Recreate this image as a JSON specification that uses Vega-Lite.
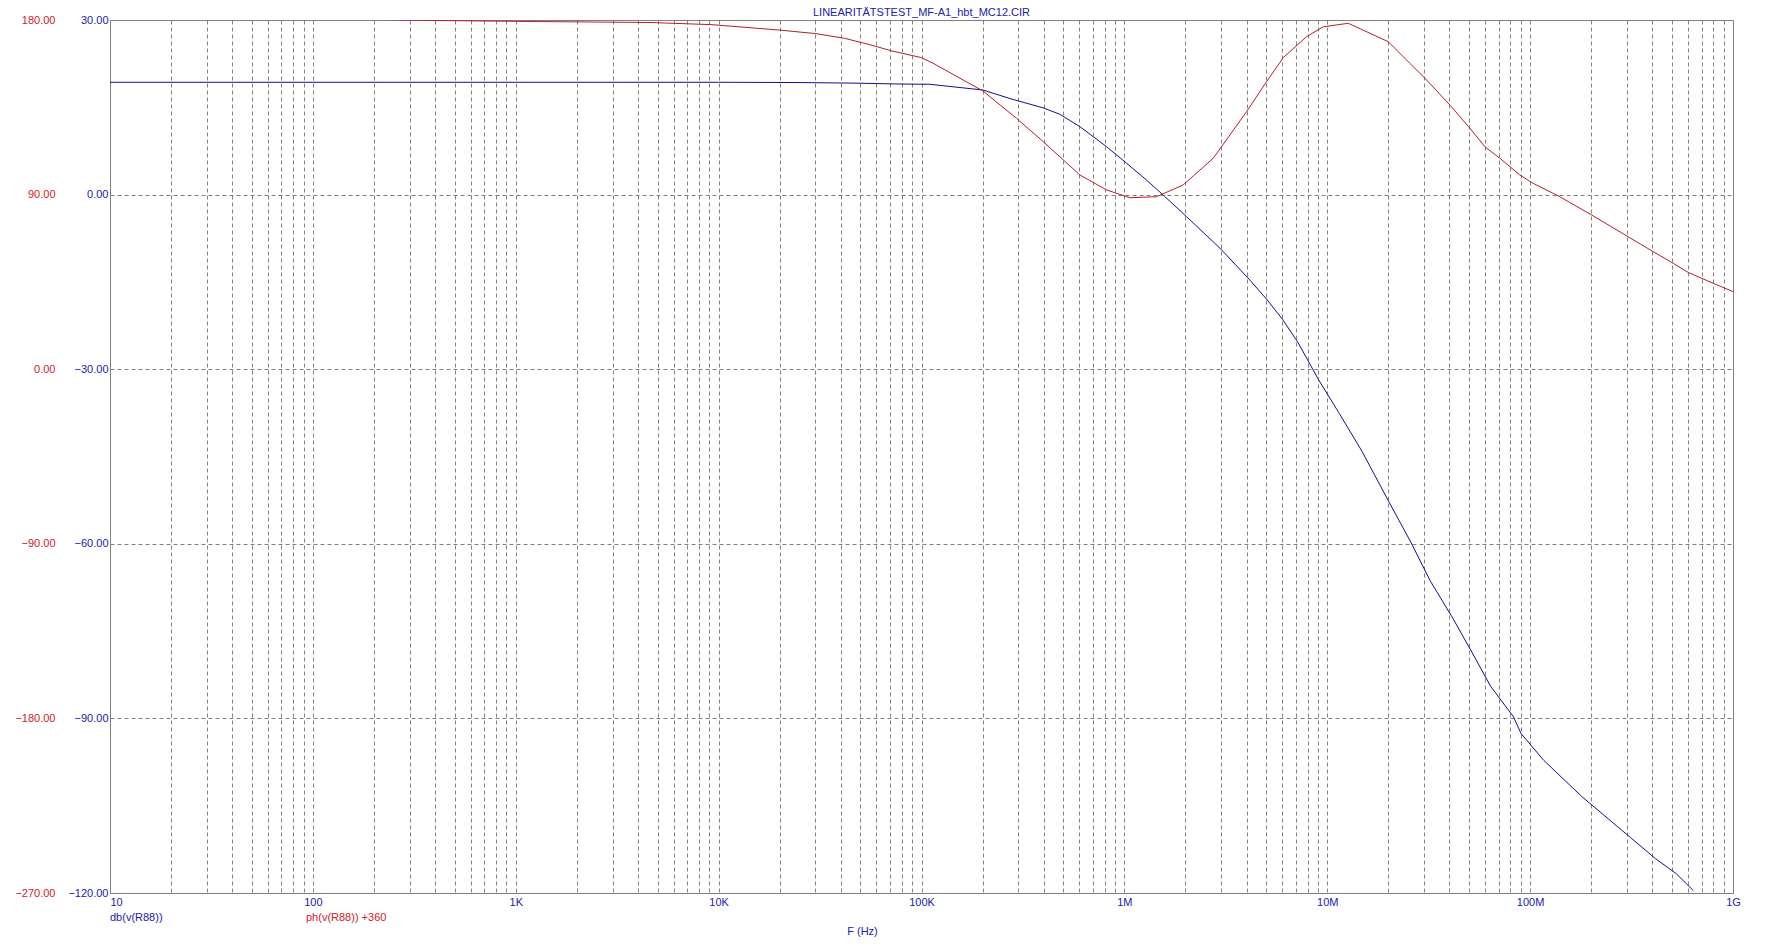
{
  "$schema": "https://vega.github.io/schema/vega-lite/v6.json",
  "width": 1623,
  "height": 873,
  "autosize": "none",
  "padding": {"left": 110, "top": 20, "right": 32, "bottom": 59},
  "background": "white",
  "config": {
    "font": "Liberation Sans",
    "view": {"stroke": "#808080", "strokeWidth": 1},
    "axis": {"labelFont": "Liberation Sans", "labelFontSize": 11, "titleFont": "Liberation Sans", "titleFontSize": 11, "titleFontWeight": "normal"}
  },
  "title": {
    "text": "LINEARITÄTSTEST_MF-A1_hbt_MC12.CIR",
    "fontSize": 11,
    "fontWeight": "normal",
    "font": "Liberation Sans",
    "color": "#2020b0",
    "anchor": "middle",
    "offset": -4
  },
  "data": {
    "values": [
      {"f": 10, "series": "db(v(R88))", "v": 19.3},
      {"f": 100, "series": "db(v(R88))", "v": 19.3},
      {"f": 1000, "series": "db(v(R88))", "v": 19.3},
      {"f": 10000, "series": "db(v(R88))", "v": 19.3},
      {"f": 26000, "series": "db(v(R88))", "v": 19.25},
      {"f": 47000, "series": "db(v(R88))", "v": 19.15},
      {"f": 78300, "series": "db(v(R88))", "v": 19.0},
      {"f": 110000, "series": "db(v(R88))", "v": 18.95},
      {"f": 201000, "series": "db(v(R88))", "v": 17.97},
      {"f": 273000, "series": "db(v(R88))", "v": 16.5},
      {"f": 398000, "series": "db(v(R88))", "v": 14.9},
      {"f": 481000, "series": "db(v(R88))", "v": 13.8},
      {"f": 604000, "series": "db(v(R88))", "v": 11.67},
      {"f": 817000, "series": "db(v(R88))", "v": 8.23},
      {"f": 1026000, "series": "db(v(R88))", "v": 5.38},
      {"f": 1286000, "series": "db(v(R88))", "v": 2.5},
      {"f": 1553000, "series": "db(v(R88))", "v": -0.07},
      {"f": 2026000, "series": "db(v(R88))", "v": -3.8},
      {"f": 2958000, "series": "db(v(R88))", "v": -9.2},
      {"f": 4160000, "series": "db(v(R88))", "v": -14.7},
      {"f": 5060000, "series": "db(v(R88))", "v": -18.1},
      {"f": 6010000, "series": "db(v(R88))", "v": -21.4},
      {"f": 7140000, "series": "db(v(R88))", "v": -25.3},
      {"f": 9060000, "series": "db(v(R88))", "v": -31.8},
      {"f": 11460000, "series": "db(v(R88))", "v": -37.6},
      {"f": 14830000, "series": "db(v(R88))", "v": -44.1},
      {"f": 20000000, "series": "db(v(R88))", "v": -52.6},
      {"f": 25900000, "series": "db(v(R88))", "v": -59.8},
      {"f": 32100000, "series": "db(v(R88))", "v": -66.3},
      {"f": 41600000, "series": "db(v(R88))", "v": -72.8},
      {"f": 51600000, "series": "db(v(R88))", "v": -78.6},
      {"f": 63900000, "series": "db(v(R88))", "v": -84.5},
      {"f": 82700000, "series": "db(v(R88))", "v": -89.7},
      {"f": 90200000, "series": "db(v(R88))", "v": -92.6},
      {"f": 116700000, "series": "db(v(R88))", "v": -97.2},
      {"f": 179400000, "series": "db(v(R88))", "v": -103.4},
      {"f": 313000000, "series": "db(v(R88))", "v": -110.5},
      {"f": 415000000, "series": "db(v(R88))", "v": -114.1},
      {"f": 526000000, "series": "db(v(R88))", "v": -116.7},
      {"f": 638000000, "series": "db(v(R88))", "v": -119.6},
      {"f": 10, "series": "ph(v(R88)) +360", "v": 184},
      {"f": 100, "series": "ph(v(R88)) +360", "v": 181.6},
      {"f": 200, "series": "ph(v(R88)) +360", "v": 180.5},
      {"f": 300, "series": "ph(v(R88)) +360", "v": 179.9},
      {"f": 1000, "series": "ph(v(R88)) +360", "v": 179.3},
      {"f": 4640, "series": "ph(v(R88)) +360", "v": 178.7},
      {"f": 9270, "series": "ph(v(R88)) +360", "v": 177.6},
      {"f": 20000, "series": "ph(v(R88)) +360", "v": 174.8},
      {"f": 30000, "series": "ph(v(R88)) +360", "v": 173},
      {"f": 41600, "series": "ph(v(R88)) +360", "v": 170.6},
      {"f": 57500, "series": "ph(v(R88)) +360", "v": 166.9},
      {"f": 70400, "series": "ph(v(R88)) +360", "v": 164.2},
      {"f": 100000, "series": "ph(v(R88)) +360", "v": 160.6},
      {"f": 114000, "series": "ph(v(R88)) +360", "v": 157.7},
      {"f": 201000, "series": "ph(v(R88)) +360", "v": 143.4},
      {"f": 294000, "series": "ph(v(R88)) +360", "v": 129.3},
      {"f": 398000, "series": "ph(v(R88)) +360", "v": 117.3},
      {"f": 604000, "series": "ph(v(R88)) +360", "v": 100.1},
      {"f": 817000, "series": "ph(v(R88)) +360", "v": 92.4},
      {"f": 1064000, "series": "ph(v(R88)) +360", "v": 88.4},
      {"f": 1440000, "series": "ph(v(R88)) +360", "v": 88.9},
      {"f": 1950000, "series": "ph(v(R88)) +360", "v": 95.0},
      {"f": 2740000, "series": "ph(v(R88)) +360", "v": 108.7},
      {"f": 4000000, "series": "ph(v(R88)) +360", "v": 132.7},
      {"f": 5020000, "series": "ph(v(R88)) +360", "v": 148.2},
      {"f": 6070000, "series": "ph(v(R88)) +360", "v": 160.6},
      {"f": 7910000, "series": "ph(v(R88)) +360", "v": 171.4},
      {"f": 9550000, "series": "ph(v(R88)) +360", "v": 176.5},
      {"f": 12700000, "series": "ph(v(R88)) +360", "v": 178.3},
      {"f": 20000000, "series": "ph(v(R88)) +360", "v": 168.8},
      {"f": 25500000, "series": "ph(v(R88)) +360", "v": 157.7},
      {"f": 30300000, "series": "ph(v(R88)) +360", "v": 150},
      {"f": 40200000, "series": "ph(v(R88)) +360", "v": 136.2},
      {"f": 50500000, "series": "ph(v(R88)) +360", "v": 124.2},
      {"f": 59800000, "series": "ph(v(R88)) +360", "v": 114.7},
      {"f": 71000000, "series": "ph(v(R88)) +360", "v": 108.7},
      {"f": 89000000, "series": "ph(v(R88)) +360", "v": 100.1},
      {"f": 103500000, "series": "ph(v(R88)) +360", "v": 95.8},
      {"f": 140000000, "series": "ph(v(R88)) +360", "v": 88.9},
      {"f": 201000000, "series": "ph(v(R88)) +360", "v": 79.5},
      {"f": 304000000, "series": "ph(v(R88)) +360", "v": 68.3},
      {"f": 404000000, "series": "ph(v(R88)) +360", "v": 60.6},
      {"f": 507000000, "series": "ph(v(R88)) +360", "v": 54.6},
      {"f": 601000000, "series": "ph(v(R88)) +360", "v": 49.9},
      {"f": 798000000, "series": "ph(v(R88)) +360", "v": 44.3},
      {"f": 1000000000, "series": "ph(v(R88)) +360", "v": 40.0}
    ]
  },
  "encoding": {
    "x": {
      "field": "f",
      "type": "quantitative",
      "scale": {"type": "log", "domain": [10, 1000000000], "nice": false},
      "axis": {
        "title": "F (Hz)",
        "titleColor": "#2020b0",
        "titleX": 752,
        "titleY": 38,
        "titleAlign": "center",
        "titleBaseline": "middle",
        "domain": false,
        "ticks": false,
        "labelPadding": 3,
        "labelColor": "#2020b0",
        "labelFlush": false,
        "labelOverlap": false,
        "labelBound": false,
        "labelAlign": {"condition": {"test": "datum.value == 10", "value": "left"}, "value": "center"},
        "grid": true,
        "gridColor": "#808080",
        "gridDash": [4, 3],
        "gridWidth": 1,
        "values": [10,20,30,40,50,60,70,80,90,100,200,300,400,500,600,700,800,900,1000,2000,3000,4000,5000,6000,7000,8000,9000,10000,20000,30000,40000,50000,60000,70000,80000,90000,100000,200000,300000,400000,500000,600000,700000,800000,900000,1000000,2000000,3000000,4000000,5000000,6000000,7000000,8000000,9000000,10000000,20000000,30000000,40000000,50000000,60000000,70000000,80000000,90000000,100000000,200000000,300000000,400000000,500000000,600000000,700000000,800000000,900000000,1000000000],
        "labelExpr": "datum.value==10?'10':datum.value==100?'100':datum.value==1000?'1K':datum.value==10000?'10K':datum.value==100000?'100K':datum.value==1000000?'1M':datum.value==10000000?'10M':datum.value==100000000?'100M':datum.value==1000000000?'1G':''"
      }
    },
    "color": {
      "field": "series",
      "type": "nominal",
      "scale": {"domain": ["db(v(R88))", "ph(v(R88)) +360"], "range": ["#10108f", "#b41e2d"]},
      "legend": {
        "title": null,
        "orient": "none",
        "legendX": -11,
        "legendY": 892,
        "direction": "horizontal",
        "symbolSize": 0,
        "symbolStrokeWidth": 0,
        "labelOffset": 0,
        "columnPadding": 132,
        "gridAlign": "none",
        "padding": 0,
        "labelFont": "Liberation Sans",
        "labelFontSize": 11,
        "encode": {"labels": {"update": {"fill": {"signal": "datum.value === 'db(v(R88))' ? '#2020b0' : '#d0202a'"}}}}
      }
    }
  },
  "layer": [
    {
      "transform": [{"filter": "datum.series === 'db(v(R88))'"}],
      "mark": {"type": "line", "strokeWidth": 1, "clip": true, "interpolate": "linear"},
      "encoding": {
        "y": {
          "field": "v",
          "type": "quantitative",
          "scale": {"domain": [-120, 30], "nice": false, "zero": false},
          "axis": {
            "title": null,
            "orient": "left",
            "values": [-120, -90, -60, -30, 0, 30],
            "format": ".2f",
            "labelColor": "#2020b0",
            "labelPadding": 2,
            "labelFlush": false,
            "domain": false,
            "ticks": false,
            "grid": true,
            "gridColor": "#808080",
            "gridDash": [4, 3],
            "gridWidth": 1
          }
        }
      }
    },
    {
      "transform": [{"filter": "datum.series === 'ph(v(R88)) +360'"}],
      "mark": {"type": "line", "strokeWidth": 1, "clip": true, "interpolate": "linear"},
      "encoding": {
        "y": {
          "field": "v",
          "type": "quantitative",
          "scale": {"domain": [-270, 180], "nice": false, "zero": false},
          "axis": {
            "title": null,
            "orient": "left",
            "offset": 53,
            "values": [-270, -180, -90, 0, 90, 180],
            "format": ".2f",
            "labelColor": "#d0202a",
            "labelPadding": 2,
            "labelFlush": false,
            "domain": false,
            "ticks": false,
            "grid": false
          }
        }
      }
    }
  ],
  "resolve": {"scale": {"y": "independent"}, "axis": {"y": "independent"}}
}
